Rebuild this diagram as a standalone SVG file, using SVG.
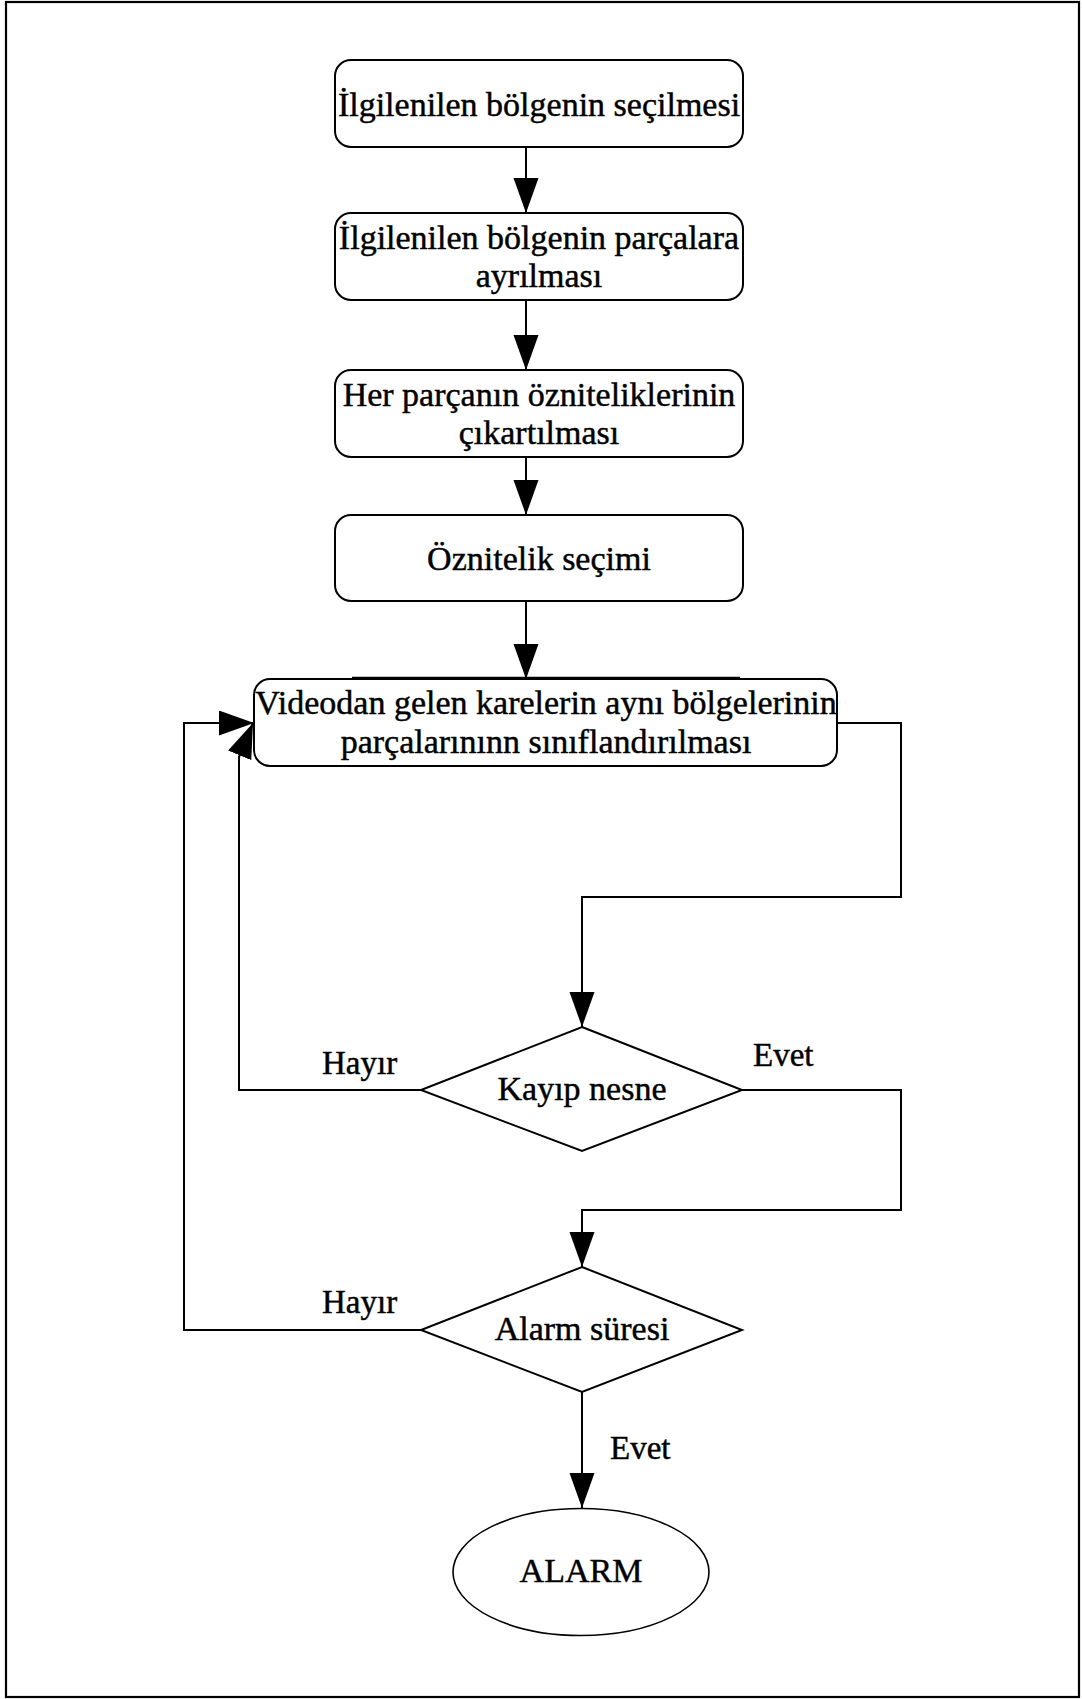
<svg xmlns="http://www.w3.org/2000/svg" width="1082" height="1699" viewBox="0 0 1082 1699">
<style>
  .box { fill: #ffffff; stroke: #000000; stroke-width: 2; }
  .dia { fill: #ffffff; stroke: #000000; stroke-width: 2; }
  .ell { fill: #ffffff; stroke: #000000; stroke-width: 1.6; }
  .txt { font-family: "Liberation Serif", "Times New Roman", serif; font-size: 34px; fill: #000000; stroke: #000000; stroke-width: 0.45; text-anchor: middle; }
  .lbl { font-family: "Liberation Serif", "Times New Roman", serif; font-size: 33px; fill: #000000; stroke: #000000; stroke-width: 0.45; }
  .con { fill: none; stroke: #000000; stroke-width: 2; }
</style>
<defs>
  <marker id="arr" markerUnits="userSpaceOnUse" markerWidth="36" markerHeight="26" refX="35" refY="12.5" orient="auto">
    <path d="M0,0 L35,12.5 L0,25 z" fill="#000000"/>
  </marker>
</defs>
<rect x="0" y="0" width="1082" height="1699" fill="#ffffff"/>
<rect x="6" y="2" width="1073" height="1695" fill="none" stroke="#000000" stroke-width="2.2"/>

<g id="connectors">
  <line class="con" x1="526" y1="147" x2="526" y2="213" marker-end="url(#arr)"/>
  <line class="con" x1="526" y1="300" x2="526" y2="370" marker-end="url(#arr)"/>
  <line class="con" x1="526" y1="457" x2="526" y2="515" marker-end="url(#arr)"/>
  <line class="con" x1="526" y1="601" x2="526" y2="679" marker-end="url(#arr)"/>
  <polyline class="con" points="837,723 901,723 901,897 582,897 582,1027" marker-end="url(#arr)"/>
  <polyline class="con" points="421,1090 239,1090 239,757 253,723" marker-end="url(#arr)"/>
  <polyline class="con" points="742,1090 901,1090 901,1210 582,1210 582,1267" marker-end="url(#arr)"/>
  <polyline class="con" points="421,1330 184,1330 184,723 254,723" marker-end="url(#arr)"/>
  <line class="con" x1="582" y1="1392" x2="582" y2="1508" marker-end="url(#arr)"/>
  <text class="lbl" x="322" y="1074">Hayır</text>
  <text class="lbl" x="753" y="1066">Evet</text>
  <text class="lbl" x="322" y="1313">Hayır</text>
  <text class="lbl" x="610" y="1459">Evet</text>
</g>

<g id="n1">
  <rect class="box" x="335" y="60" width="408" height="87" rx="16" ry="16"/>
  <text class="txt" x="539" y="116">İlgilenilen bölgenin seçilmesi</text>
</g>
<g id="n2">
  <rect class="box" x="335" y="213" width="408" height="87" rx="16" ry="16"/>
  <text class="txt" x="539" y="249">İlgilenilen bölgenin parçalara</text>
  <text class="txt" x="539" y="287">ayrılması</text>
</g>
<g id="n3">
  <rect class="box" x="335" y="370" width="408" height="87" rx="16" ry="16"/>
  <text class="txt" x="539" y="406">Her parçanın özniteliklerinin</text>
  <text class="txt" x="539" y="444">çıkartılması</text>
</g>
<g id="n4">
  <rect class="box" x="335" y="515" width="408" height="86" rx="16" ry="16"/>
  <text class="txt" x="539" y="570">Öznitelik seçimi</text>
</g>
<g id="n5">
  <line x1="352" y1="677.5" x2="740" y2="677.5" stroke="#000000" stroke-width="1.5"/>
  <rect class="box" x="254" y="679" width="583" height="87" rx="16" ry="16"/>
  <text class="txt" x="546" y="714">Videodan gelen karelerin aynı bölgelerinin</text>
  <text class="txt" x="546" y="753">parçalarınınn sınıflandırılması</text>
</g>
<g id="d1">
  <polygon class="dia" points="582,1027 742,1090 582,1151 421,1090"/>
  <text class="txt" x="582" y="1100">Kayıp nesne</text>
</g>
<g id="d2">
  <polygon class="dia" points="582,1267 742,1330 582,1392 421,1330"/>
  <text class="txt" x="582" y="1340">Alarm süresi</text>
</g>
<g id="alarm">
  <ellipse class="ell" cx="581" cy="1572" rx="128" ry="63.5"/>
  <text class="txt" x="581" y="1582">ALARM</text>
</g>
</svg>
